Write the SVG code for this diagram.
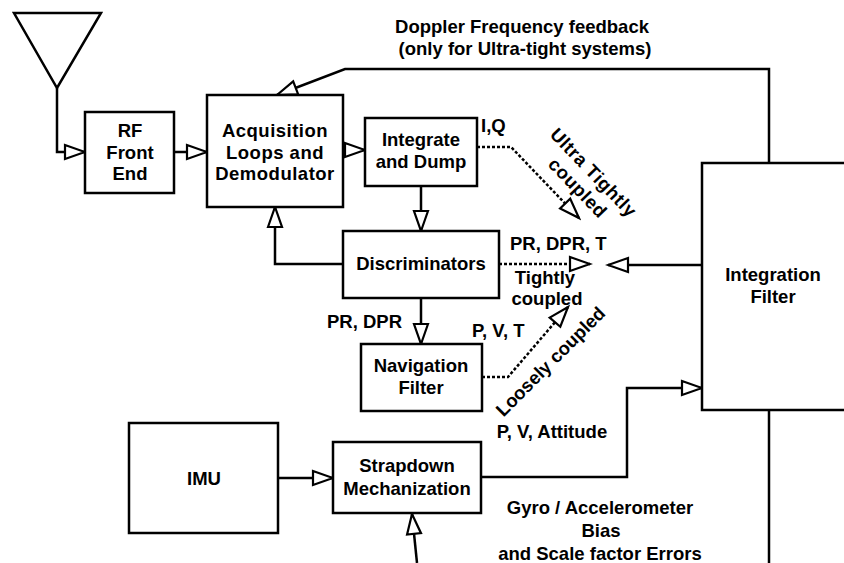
<svg xmlns="http://www.w3.org/2000/svg" width="844" height="563" viewBox="0 0 844 563">
  <style>
    .box { fill: #fff; stroke: #000; stroke-width: 2.5; }
    .ln { fill: none; stroke: #000; stroke-width: 2.5; }
    .dot { fill: none; stroke: #000; stroke-width: 2.5; stroke-dasharray: 3 2; }
    text { font-family: "Liberation Sans", Arial, sans-serif; font-weight: bold; font-size: 18.5px; fill: #000; }
    .c { text-anchor: middle; }
  </style>
  <defs>
    <marker id="ah" markerUnits="userSpaceOnUse" markerWidth="26" markerHeight="20" viewBox="-3 -10 26 20" refX="20" refY="0" orient="auto">
      <path d="M0,-7 L20,0 L0,7 Z" fill="#fff" stroke="#000" stroke-width="2.2" stroke-linejoin="miter"/>
    </marker>
  </defs>

  <rect width="844" height="563" fill="#fff"/>

  <!-- connectors -->
  <g id="connectors">
    <path class="ln" d="M57,88 V152 H85" marker-end="url(#ah)"/>
    <path class="ln" d="M174,152 H207" marker-end="url(#ah)"/>
    <path class="ln" d="M343,150 H365" marker-end="url(#ah)"/>
    <path class="ln" d="M769,163 V69 H345 L277,95" marker-end="url(#ah)"/>
    <path class="ln" d="M421,186 V231" marker-end="url(#ah)"/>
    <path class="ln" d="M343,264 H275 V207" marker-end="url(#ah)"/>
    <path class="ln" d="M421,298 V344" marker-end="url(#ah)"/>
    <path class="dot" d="M477,147 H511 L579,218" marker-end="url(#ah)"/>
    <path class="dot" d="M499,264 H590" marker-end="url(#ah)"/>
    <path class="dot" d="M482,377 H508 L568,307" marker-end="url(#ah)"/>
    <path class="ln" d="M702,265 H608" marker-end="url(#ah)"/>
    <path class="ln" d="M278,478 H333" marker-end="url(#ah)"/>
    <path class="ln" d="M481,477 H627 V388 H702" marker-end="url(#ah)"/>
    <path class="ln" d="M417,563 L412,514" marker-end="url(#ah)"/>
    <path class="ln" d="M769,410 V563"/>
  </g>

  <!-- antenna -->
  <g id="antenna">
    <path class="ln" d="M14,13 H101 L57,88 Z"/>
  </g>

  <g id="rf-front-end">
    <rect class="box" x="85" y="112" width="89" height="81"/>
    <text class="c" x="130" y="137">RF</text>
    <text class="c" x="130" y="159">Front</text>
    <text class="c" x="130" y="180">End</text>
  </g>

  <g id="acquisition">
    <rect class="box" x="207" y="95" width="136" height="112"/>
    <text class="c" x="275" y="137" letter-spacing="0.5">Acquisition</text>
    <text class="c" x="275" y="159" letter-spacing="0.5">Loops and</text>
    <text class="c" x="275" y="180" letter-spacing="0.5">Demodulator</text>
  </g>

  <g id="integrate-dump">
    <rect class="box" x="365" y="118" width="112" height="68"/>
    <text class="c" x="421" y="146">Integrate</text>
    <text class="c" x="421" y="168">and Dump</text>
  </g>

  <g id="discriminators">
    <rect class="box" x="343" y="231" width="156" height="67"/>
    <text class="c" x="421" y="270">Discriminators</text>
  </g>

  <g id="navigation-filter">
    <rect class="box" x="361" y="344" width="121" height="67"/>
    <text class="c" x="421" y="372">Navigation</text>
    <text class="c" x="421" y="394">Filter</text>
  </g>

  <g id="integration-filter">
    <rect class="box" x="702" y="163" width="160" height="247"/>
    <text class="c" x="773" y="281">Integration</text>
    <text class="c" x="773" y="303">Filter</text>
  </g>

  <g id="imu">
    <rect class="box" x="129" y="423" width="149" height="110"/>
    <text class="c" x="204" y="485">IMU</text>
  </g>

  <g id="strapdown">
    <rect class="box" x="333" y="442" width="148" height="71"/>
    <text class="c" x="407" y="472">Strapdown</text>
    <text class="c" x="407" y="495">Mechanization</text>
  </g>

  <!-- labels -->
  <g id="labels">
    <text class="c" x="522" y="33">Doppler Frequency feedback</text>
    <text class="c" x="525" y="55">(only for Ultra-tight systems)</text>
    <text x="481" y="132">I,Q</text>
    <g transform="translate(589,177) rotate(46)">
      <text class="c" x="0" y="0" letter-spacing="0.6">Ultra Tightly</text>
      <text class="c" x="0" y="22" letter-spacing="0.6">coupled</text>
    </g>
    <text x="510" y="250">PR, DPR, T</text>
    <text class="c" x="545" y="284">Tightly</text>
    <text class="c" x="547" y="305">coupled</text>
    <text x="327" y="328">PR, DPR</text>
    <text x="472" y="337">P, V, T</text>
    <text class="c" transform="translate(555,366) rotate(-45)">Loosely coupled</text>
    <text class="c" x="552" y="438">P, V, Attitude</text>
    <text class="c" x="600" y="514">Gyro / Accelerometer</text>
    <text class="c" x="601" y="537">Bias</text>
    <text class="c" x="600" y="560">and Scale factor Errors</text>
  </g>
</svg>
